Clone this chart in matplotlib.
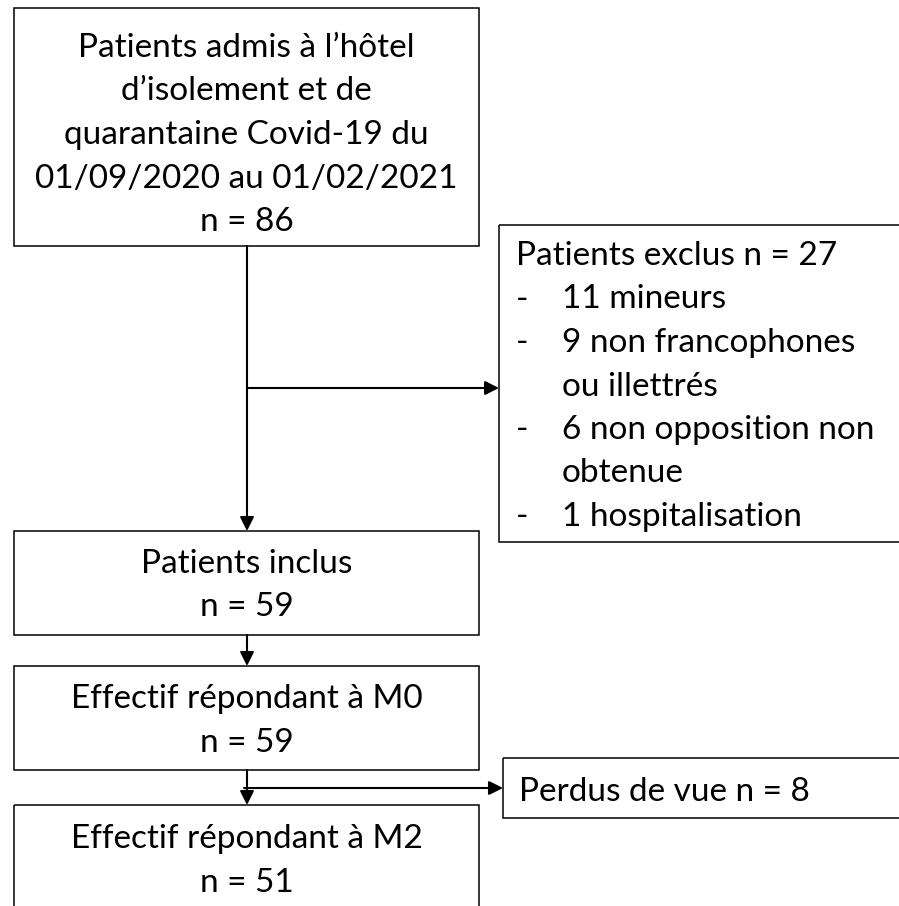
import matplotlib

matplotlib.use('Agg')
import matplotlib.pyplot as plt
from matplotlib.patches import Rectangle

# flowchart content
main_labels = [
    'Patients admis à l’hôtel\nd’isolement et de\nquarantaine Covid-19 du\n01/09/2020 au 01/02/2021',
    'Patients inclus',
    'Effectif répondant à M0',
    'Effectif répondant à M2',
]
main_counts = [86, 59, 59, 51]

excluded_total = 27
excluded_reasons = [
    '11 mineurs',
    '9 non francophones\nou illettrés',
    '6 non opposition non\nobtenue',
    '1 hospitalisation',
]
lost_to_followup = 8

# layout in pixels (y grows downward)
FONT = 'Lato'
SIZE = 24
LINE = 43.5
main_boxes = [(14, 8, 465, 238), (14, 531, 465, 104), (14, 666, 465, 104), (14, 805, 465, 130)]
main_first_baseline = [57, 573, 708, 848]
excl_box = (499, 225, 420, 317)
lost_box = (503, 758, 420, 60)
spine_x = 247


def _box(ax, rect):
    x, y, w, h = rect
    ax.add_patch(Rectangle((x, y), w, h, fill=False, edgecolor='black', lw=1.1))


def _arrow(ax, start, end):
    ax.annotate('', xy=end, xytext=start,
                arrowprops=dict(arrowstyle='-|>', color='black', lw=1.5,
                                mutation_scale=21, shrinkA=0, shrinkB=0))


def _text(ax, x, y, s, ha='center'):
    ax.text(x, y, s, ha=ha, va='baseline', fontsize=SIZE, family=FONT, color='black')


fig = plt.figure(figsize=(8.99, 9.06), dpi=100)
ax = fig.add_axes([0, 0, 1, 1])
ax.set_xlim(0, 899)
ax.set_ylim(906, 0)
ax.axis('off')

# main column
for rect, label, count, base in zip(main_boxes, main_labels, main_counts, main_first_baseline):
    _box(ax, rect)
    cx = rect[0] + rect[2] / 2
    lines = label.split('\n') + [f'n = {count}']
    for i, line in enumerate(lines):
        _text(ax, cx, base + i * LINE, line)

# exclusions
_box(ax, excl_box)
_text(ax, 516, 265, f'Patients exclus n = {excluded_total}', ha='left')
row = 1
for reason in excluded_reasons:
    for j, line in enumerate(reason.split('\n')):
        y = 265 + row * LINE
        if j == 0:
            _text(ax, 516, y, '-', ha='left')
        _text(ax, 562, y, line, ha='left')
        row += 1

# lost to follow-up
_box(ax, lost_box)
_text(ax, 519, 801, f'Perdus de vue n = {lost_to_followup}', ha='left')

# connectors
top = main_boxes[0]
_arrow(ax, (spine_x, top[1] + top[3]), (spine_x, main_boxes[1][1]))
_arrow(ax, (spine_x, 388), (excl_box[0], 388))
for upper, lower in zip(main_boxes[1:-1], main_boxes[2:]):
    _arrow(ax, (spine_x, upper[1] + upper[3]), (spine_x, lower[1]))
_arrow(ax, (spine_x - 3, 788), (lost_box[0], 788))

fig.savefig('out.png', dpi=100, facecolor='white')
